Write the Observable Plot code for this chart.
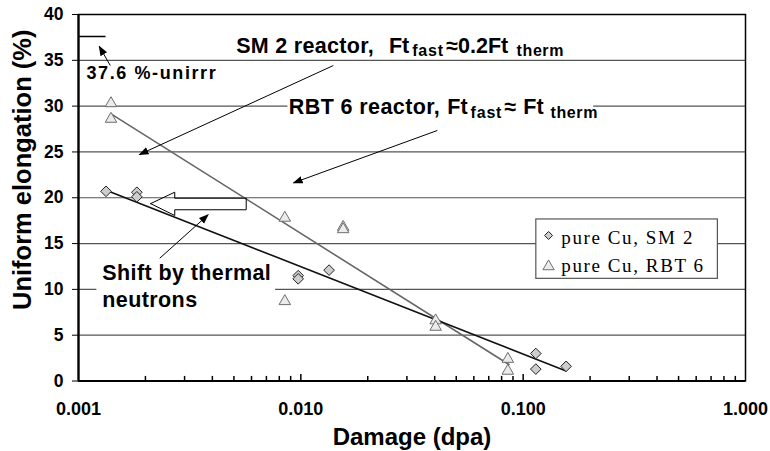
<!DOCTYPE html>
<html><head><meta charset="utf-8">
<script src="https://cdn.jsdelivr.net/npm/d3@7"></script>
<script src="https://cdn.jsdelivr.net/npm/@observablehq/plot@0.6"></script>
<style>
body{margin:0;background:#fff;}
svg{display:block;}
g[aria-label^="x-axis"] text{font-size:18px;}
g[aria-label^="y-axis"] text{font-size:17.5px;}
</style></head><body><div id="chart"></div>
<script>
// ---- data ----
const sm2Dose  = [0.00133, 0.00183, 0.00183, 0.00973, 0.00973, 0.0134, 0.114, 0.114, 0.156];
const sm2Elong = [20.7, 20.6, 20.1, 11.5, 11.15, 12.1, 3.0, 1.3, 1.6];
const rbt6Dose  = [0.00140, 0.00140, 0.00847, 0.00847, 0.0155, 0.0155, 0.0404, 0.0404, 0.0853, 0.0853];
const rbt6Elong = [30.3, 28.6, 17.8, 8.7, 16.8, 16.55, 6.6, 5.9, 2.4, 1.1];
const fitSM2Dose  = [0.00134, 0.156];
const fitSM2Elong = [20.8, 1.1];
const fitRBT6Dose  = [0.00140, 0.0863];
const fitRBT6Elong = [29.16, 1.8];
const unirrElong = 37.6;
const unirrDose = [0.001, 0.00133];
const xTicks = [0.001, 0.01, 0.1, 1];
const yTicks = [0, 5, 10, 15, 20, 25, 30, 35, 40];
const seriesNames = ["pure Cu, SM 2", "pure Cu, RBT 6"];
const xLabel = "Damage (dpa)";
const yLabel = "Uniform elongation (%)";

// ---- annotations (data coordinates) ----
const sm2Main = [{x:0.00512,y:35.78,t:"SM 2 reactor,"},{x:0.0249,y:35.78,t:"Ft"},{x:0.0451,y:35.78,t:"≈0.2Ft"}];
const sm2Sub  = [{x:0.0317,y:35.42,t:"fast"},{x:0.0934,y:35.42,t:"therm"}];
const rbtMain = [{x:0.00883,y:29.16,t:"RBT 6 reactor,"},{x:0.0456,y:29.16,t:"Ft"},{x:0.0825,y:29.16,t:"≈"},{x:0.1001,y:29.16,t:"Ft"}];
const rbtSub  = [{x:0.0580,y:28.75,t:"fast"},{x:0.1328,y:28.75,t:"therm"}];
const shiftText = [{x:0.00128,y:10.97,t:"Shift by thermal"},{x:0.00128,y:8.05,t:"neutrons"}];
const unirrText = [{x:0.001086,y:32.98,t:"37.6 %-unirrr"}];
const textBoxes = [{x1:0.00875,x2:0.2074,y1:28.43,y2:31.05},{x1:0.00121,x2:0.0077,y1:7.26,y2:13.37}];
const arrows = [
  {x1:0.00139,y1:34.43,x2:0.00124,y2:36.51},
  {x1:0.0140,y1:34.43,x2:0.00188,y2:24.72},
  {x1:0.0411,y1:27.34,x2:0.00927,y2:21.63},
  {x1:0.00232,y1:13.40,x2:0.00383,y2:18.14}
];
const shiftArrow = [
  {x:0.00211,y:19.36},{x:0.00271,y:20.61},{x:0.00271,y:19.95},{x:0.00568,y:19.95},
  {x:0.00568,y:18.69},{x:0.00271,y:18.69},{x:0.00271,y:18.06},{x:0.00211,y:19.36}
];
const legendBox = [{x1:0.1146,x2:0.7513,y1:11.15,y2:17.63}];
const legendRows = [{x:0.1301,tx:0.1484,y:15.88,ty:14.97},{x:0.1301,tx:0.1484,y:12.50,ty:11.87}];

const zip = (xs, ys) => xs.map((x,i)=>({x, y: ys[i]}));
const sm2 = zip(sm2Dose, sm2Elong);
const rbt6 = zip(rbt6Dose, rbt6Elong);
const fitSM2 = zip(fitSM2Dose, fitSM2Elong);
const fitRBT6 = zip(fitRBT6Dose, fitRBT6Elong);
const xMinor = [];
for (const d of [0.001, 0.01, 0.1]) for (let k = 2; k <= 9; k++) xMinor.push(+(d*k).toPrecision(3));

const sans = "'Liberation Sans', Arial, sans-serif";
const serif = "'Liberation Serif', 'Times New Roman', serif";

const plot = Plot.plot({
  width: 770, height: 451,
  marginLeft: 78, marginRight: 25, marginTop: 14, marginBottom: 70.5,
  style: {fontFamily: sans, fontWeight: "bold", color: "#000", background: "#fff", overflow: "visible"},
  x: {type: "log", domain: [0.001, 1], ticks: xTicks, tickFormat: d => d.toFixed(3), tickSize: 0, tickPadding: 21, label: null},
  y: {domain: [0, 40], ticks: yTicks, tickSize: 6, tickPadding: 9, label: null},
  marks: [
    Plot.ruleY(yTicks.filter(v => v > 0 && v < 40), {stroke: "#555", strokeWidth: 1.2}),
    Plot.rect(textBoxes, {x1: "x1", x2: "x2", y1: "y1", y2: "y2", fill: "white"}),
    Plot.frame({stroke: "#000", strokeWidth: 1.5}),
    Plot.ruleY([0], {stroke: "#000", strokeWidth: 2.2}),
    Plot.ruleX([0.001], {stroke: "#000", strokeWidth: 2.2}),
    Plot.ruleX(xMinor, {y1: 0, y2: 0.5, stroke: "#000", strokeWidth: 1.5}),
    Plot.ruleX([0.01, 0.1], {y1: 0, y2: 0.7, stroke: "#000", strokeWidth: 1.5}),
    Plot.ruleY([unirrElong], {x1: unirrDose[0], x2: unirrDose[1], stroke: "#000", strokeWidth: 1.5}),
    Plot.line(fitRBT6, {x: "x", y: "y", stroke: "#666", strokeWidth: 1.6}),
    Plot.line(fitSM2, {x: "x", y: "y", stroke: "#111", strokeWidth: 1.6}),
    Plot.line(shiftArrow, {x: "x", y: "y", stroke: "#000", strokeWidth: 1}),
    Plot.link(arrows, {x1: "x1", y1: "y1", x2: "x2", y2: "y2", stroke: "#000", strokeWidth: 1}),
    Plot.dot(rbt6, {x: "x", y: "y", symbol: "triangle2", r: 5.5, fill: "#ebebeb", stroke: "#6e6e6e", strokeWidth: 1}),
    Plot.dot(sm2, {x: "x", y: "y", symbol: "diamond2", r: 4.8, fill: "#cdcdcd", stroke: "#222", strokeWidth: 1}),
    Plot.text(sm2Main, {x: "x", y: "y", text: "t", fontSize: 21.5, textAnchor: "start", lineAnchor: "bottom"}),
    Plot.text(sm2Sub, {x: "x", y: "y", text: "t", fontSize: 16, textAnchor: "start", lineAnchor: "bottom"}),
    Plot.text(rbtMain, {x: "x", y: "y", text: "t", fontSize: 21.5, textAnchor: "start", lineAnchor: "bottom"}),
    Plot.text(rbtSub, {x: "x", y: "y", text: "t", fontSize: 16, textAnchor: "start", lineAnchor: "bottom"}),
    Plot.text(shiftText, {x: "x", y: "y", text: "t", fontSize: 21.5, textAnchor: "start", lineAnchor: "bottom"}),
    Plot.text(unirrText, {x: "x", y: "y", text: "t", fontSize: 18, textAnchor: "start", lineAnchor: "bottom"}),
    Plot.rect(legendBox, {x1: "x1", x2: "x2", y1: "y1", y2: "y2", fill: "white", stroke: "#555", strokeWidth: 1.2}),
    Plot.dot([legendRows[0]], {x: "x", y: "y", symbol: "diamond2", r: 3.6, fill: "#cdcdcd", stroke: "#222", strokeWidth: 1}),
    Plot.dot([legendRows[1]], {x: "x", y: "y", symbol: "triangle2", r: 5.4, fill: "#ebebeb", stroke: "#6e6e6e", strokeWidth: 1}),
    Plot.text(legendRows, {x: "tx", y: "ty", text: (d, i) => seriesNames[i], fontSize: 19, fontFamily: serif, fontWeight: "normal", textAnchor: "start", lineAnchor: "bottom"}),
    Plot.text([xLabel], {frameAnchor: "bottom", text: d => d, fontSize: 24, lineAnchor: "bottom", dy: 63.5}),
    Plot.text([yLabel], {frameAnchor: "left", text: d => d, fontSize: 25.5, rotate: -90, lineAnchor: "bottom", textAnchor: "middle", dx: -48, dy: -28})
  ]
});

document.getElementById("chart").appendChild(plot);
const svgEl = plot.tagName.toLowerCase() === "svg" ? plot : plot.querySelector("svg");
const svg = d3.select(svgEl);
const defs = svg.insert("defs", ":first-child");
defs.append("marker")
  .attr("id", "ah").attr("viewBox", "0 -5 10 10").attr("refX", 9).attr("refY", 0)
  .attr("markerWidth", 10).attr("markerHeight", 10).attr("markerUnits", "userSpaceOnUse").attr("orient", "auto")
  .append("path").attr("d", "M0,-3.8L10,0L0,3.8Z").attr("fill", "#000").attr("stroke", "none");
svg.selectAll('g[aria-label="link"] path, g[aria-label="link"] line').attr("marker-end", "url(#ah)");

// letter spacing to match the reference's wide text
const spacing = new Map([
  ["SM 2 reactor,", 0.3], ["RBT 6 reactor,", 0.4],
  ["fast", 0.8], ["therm", 0.6], ["Shift by thermal", 0.4], ["neutrons", 0.4],
  ["37.6 %-unirrr", 1.6], [seriesNames[0], 1.6], [seriesNames[1], 1.6]
]);
svg.selectAll("text").each(function() {
  const s = spacing.get(this.textContent);
  if (s) this.setAttribute("letter-spacing", s + "px");
});
</script>
</body></html>
